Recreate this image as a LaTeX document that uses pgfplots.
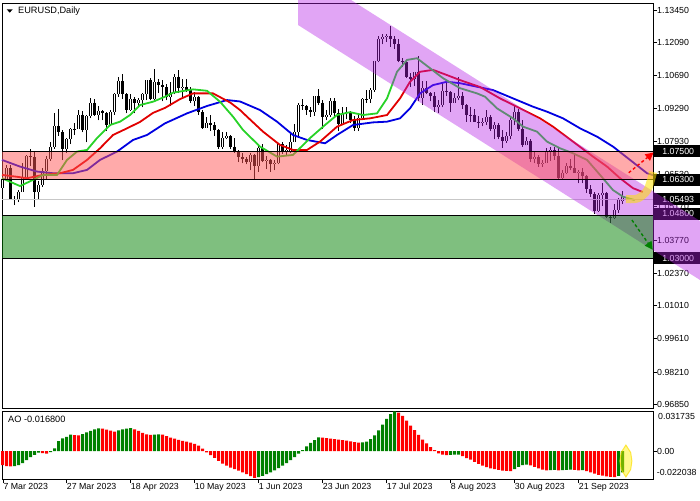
\documentclass[border=0pt]{standalone}
\usepackage{pgfplots}
\usepackage{pgfplotstable}
\pgfplotsset{compat=1.18}
\usetikzlibrary{arrows.meta}
\usepackage{fontspec}
\setmainfont{Liberation Sans}

\definecolor{lips}{RGB}{40,210,40}
\definecolor{teeth}{RGB}{225,0,0}
\definecolor{jaw}{RGB}{0,0,225}
\definecolor{chan}{RGB}{180,30,230}
\definecolor{zonepink}{RGB}{255,85,85}
\definecolor{zonegreen}{RGB}{0,128,0}
\definecolor{aogreen}{RGB}{0,128,0}
\definecolor{aored}{RGB}{255,0,0}

% wicks: low, high, break
\pgfplotstableread[row sep=\\]{
i v\\
-2 1.0590\\ -2 1.0638\\ -2 nan\\
-1 1.0630\\ -1 1.0693\\ -1 nan\\
0 1.0546\\ 0 1.0694\\ 0 nan\\
1 1.0524\\ 1 1.0563\\ 1 nan\\
2 1.0536\\ 2 1.0588\\ 2 nan\\
3 1.0580\\ 3 1.0700\\ 3 nan\\
4 1.0640\\ 4 1.0736\\ 4 nan\\
5 1.0690\\ 5 1.0760\\ 5 nan\\
6 1.0516\\ 6 1.0750\\ 6 nan\\
7 1.0550\\ 7 1.0626\\ 7 nan\\
8 1.0600\\ 8 1.0680\\ 8 nan\\
9 1.0635\\ 9 1.0730\\ 9 nan\\
10 1.0710\\ 10 1.0788\\ 10 nan\\
11 1.0760\\ 11 1.0912\\ 11 nan\\
12 1.0815\\ 12 1.0930\\ 12 nan\\
13 1.0713\\ 13 1.0840\\ 13 nan\\
14 1.0745\\ 14 1.0805\\ 14 nan\\
15 1.0780\\ 15 1.0850\\ 15 nan\\
16 1.0820\\ 16 1.0870\\ 16 nan\\
17 1.0845\\ 17 1.0925\\ 17 nan\\
18 1.0830\\ 18 1.0920\\ 18 nan\\
19 1.0788\\ 19 1.0904\\ 19 nan\\
20 1.0890\\ 20 1.0973\\ 20 nan\\
21 1.0900\\ 21 1.0970\\ 21 nan\\
22 1.0880\\ 22 1.0940\\ 22 nan\\
23 1.0880\\ 23 1.0925\\ 23 nan\\
24 1.0835\\ 24 1.0915\\ 24 nan\\
25 1.0855\\ 25 1.0925\\ 25 nan\\
26 1.0905\\ 26 1.0995\\ 26 nan\\
27 1.0980\\ 27 1.1065\\ 27 nan\\
28 1.0970\\ 28 1.1075\\ 28 nan\\
29 1.0910\\ 29 1.0995\\ 29 nan\\
30 1.0920\\ 30 1.0990\\ 30 nan\\
31 1.0910\\ 31 1.0980\\ 31 nan\\
32 1.0935\\ 32 1.0975\\ 32 nan\\
33 1.0935\\ 33 1.0995\\ 33 nan\\
34 1.0965\\ 34 1.1050\\ 34 nan\\
35 1.0965\\ 35 1.1060\\ 35 nan\\
36 1.0965\\ 36 1.1095\\ 36 nan\\
37 1.0995\\ 37 1.1055\\ 37 nan\\
38 1.0960\\ 38 1.1050\\ 38 nan\\
39 1.0965\\ 39 1.1035\\ 39 nan\\
40 1.0940\\ 40 1.1040\\ 40 nan\\
41 1.0990\\ 41 1.1075\\ 41 nan\\
42 1.0995\\ 42 1.1092\\ 42 nan\\
43 1.0980\\ 43 1.1055\\ 43 nan\\
44 1.1000\\ 44 1.1055\\ 44 nan\\
45 1.0955\\ 45 1.1020\\ 45 nan\\
46 1.0940\\ 46 1.1000\\ 46 nan\\
47 1.0905\\ 47 1.0985\\ 47 nan\\
48 1.0845\\ 48 1.0925\\ 48 nan\\
49 1.0850\\ 49 1.0895\\ 49 nan\\
50 1.0835\\ 50 1.0905\\ 50 nan\\
51 1.0815\\ 51 1.0875\\ 51 nan\\
52 1.0760\\ 52 1.0845\\ 52 nan\\
53 1.0760\\ 53 1.0830\\ 53 nan\\
54 1.0800\\ 54 1.0830\\ 54 nan\\
55 1.0760\\ 55 1.0820\\ 55 nan\\
56 1.0745\\ 56 1.0805\\ 56 nan\\
57 1.0705\\ 57 1.0755\\ 57 nan\\
58 1.0700\\ 58 1.0745\\ 58 nan\\
59 1.0695\\ 59 1.0725\\ 59 nan\\
60 1.0670\\ 60 1.0745\\ 60 nan\\
61 1.0635\\ 61 1.0740\\ 61 nan\\
62 1.0665\\ 62 1.0780\\ 62 nan\\
63 1.0705\\ 63 1.0780\\ 63 nan\\
64 1.0675\\ 64 1.0730\\ 64 nan\\
65 1.0665\\ 65 1.0720\\ 65 nan\\
66 1.0670\\ 66 1.0715\\ 66 nan\\
67 1.0695\\ 67 1.0785\\ 67 nan\\
68 1.0740\\ 68 1.0790\\ 68 nan\\
69 1.0730\\ 69 1.0775\\ 69 nan\\
70 1.0745\\ 70 1.0825\\ 70 nan\\
71 1.0790\\ 71 1.0865\\ 71 nan\\
72 1.0810\\ 72 1.0955\\ 72 nan\\
73 1.0925\\ 73 1.0970\\ 73 nan\\
74 1.0905\\ 74 1.0945\\ 74 nan\\
75 1.0895\\ 75 1.0935\\ 75 nan\\
76 1.0900\\ 76 1.0985\\ 76 nan\\
77 1.0945\\ 77 1.1012\\ 77 nan\\
78 1.0845\\ 78 1.0965\\ 78 nan\\
79 1.0880\\ 79 1.0925\\ 79 nan\\
80 1.0895\\ 80 1.0975\\ 80 nan\\
81 1.0895\\ 81 1.0975\\ 81 nan\\
82 1.0835\\ 82 1.0930\\ 82 nan\\
83 1.0860\\ 83 1.0935\\ 83 nan\\
84 1.0885\\ 84 1.0935\\ 84 nan\\
85 1.0870\\ 85 1.0920\\ 85 nan\\
86 1.0835\\ 86 1.0900\\ 86 nan\\
87 1.0835\\ 87 1.0905\\ 87 nan\\
88 1.0880\\ 88 1.0975\\ 88 nan\\
89 1.0955\\ 89 1.1010\\ 89 nan\\
90 1.0955\\ 90 1.1015\\ 90 nan\\
91 1.1000\\ 91 1.1130\\ 91 nan\\
92 1.1125\\ 92 1.1235\\ 92 nan\\
93 1.1200\\ 93 1.1245\\ 93 nan\\
94 1.1210\\ 94 1.1245\\ 94 nan\\
95 1.1190\\ 95 1.1276\\ 95 nan\\
96 1.1180\\ 96 1.1235\\ 96 nan\\
97 1.1125\\ 97 1.1225\\ 97 nan\\
98 1.1105\\ 98 1.1145\\ 98 nan\\
99 1.1060\\ 99 1.1135\\ 99 nan\\
100 1.1020\\ 100 1.1080\\ 100 nan\\
101 1.1025\\ 101 1.1085\\ 101 nan\\
102 1.0960\\ 102 1.1150\\ 102 nan\\
103 1.0945\\ 103 1.1045\\ 103 nan\\
104 1.0990\\ 104 1.1045\\ 104 nan\\
105 1.0960\\ 105 1.1000\\ 105 nan\\
106 1.0915\\ 106 1.1000\\ 106 nan\\
107 1.0910\\ 107 1.0965\\ 107 nan\\
108 1.0935\\ 108 1.1040\\ 108 nan\\
109 1.0985\\ 109 1.1040\\ 109 nan\\
110 1.0915\\ 110 1.1005\\ 110 nan\\
111 1.0955\\ 111 1.0995\\ 111 nan\\
112 1.0965\\ 112 1.1065\\ 112 nan\\
113 1.0930\\ 113 1.1000\\ 113 nan\\
114 1.0875\\ 114 1.0950\\ 114 nan\\
115 1.0875\\ 115 1.0935\\ 115 nan\\
116 1.0875\\ 116 1.0930\\ 116 nan\\
117 1.0850\\ 117 1.0900\\ 117 nan\\
118 1.0855\\ 118 1.0890\\ 118 nan\\
119 1.0860\\ 119 1.0925\\ 119 nan\\
120 1.0835\\ 120 1.0905\\ 120 nan\\
121 1.0800\\ 121 1.0875\\ 121 nan\\
122 1.0800\\ 122 1.0870\\ 122 nan\\
123 1.0765\\ 123 1.0840\\ 123 nan\\
124 1.0785\\ 124 1.0830\\ 124 nan\\
125 1.0800\\ 125 1.0895\\ 125 nan\\
126 1.0860\\ 126 1.0945\\ 126 nan\\
127 1.0835\\ 127 1.0930\\ 127 nan\\
128 1.0770\\ 128 1.0880\\ 128 nan\\
129 1.0775\\ 129 1.0810\\ 129 nan\\
130 1.0705\\ 130 1.0800\\ 130 nan\\
131 1.0700\\ 131 1.0750\\ 131 nan\\
132 1.0685\\ 132 1.0735\\ 132 nan\\
133 1.0685\\ 133 1.0715\\ 133 nan\\
134 1.0700\\ 134 1.0765\\ 134 nan\\
135 1.0710\\ 135 1.0770\\ 135 nan\\
136 1.0715\\ 136 1.0770\\ 136 nan\\
137 1.0630\\ 137 1.0770\\ 137 nan\\
138 1.0630\\ 138 1.0670\\ 138 nan\\
139 1.0655\\ 139 1.0700\\ 139 nan\\
140 1.0670\\ 140 1.0720\\ 140 nan\\
141 1.0660\\ 141 1.0735\\ 141 nan\\
142 1.0615\\ 142 1.0670\\ 142 nan\\
143 1.0615\\ 143 1.0680\\ 143 nan\\
144 1.0575\\ 144 1.0650\\ 144 nan\\
145 1.0560\\ 145 1.0610\\ 145 nan\\
146 1.0488\\ 146 1.0580\\ 146 nan\\
147 1.0495\\ 147 1.0575\\ 147 nan\\
148 1.0520\\ 148 1.0615\\ 148 nan\\
149 1.0470\\ 149 1.0580\\ 149 nan\\
150 1.0448\\ 150 1.0480\\ 150 nan\\
151 1.0465\\ 151 1.0530\\ 151 nan\\
152 1.0490\\ 152 1.0555\\ 152 nan\\
153 1.0530\\ 153 1.0585\\ 153 nan\\
}\wicks

% bullish bodies: open, close, break
\pgfplotstableread[row sep=\\]{
i v\\
-2 1.0596\\ -2 1.0634\\ -2 nan\\
-1 1.0634\\ -1 1.0682\\ -1 nan\\
2 1.0545\\ 2 1.0580\\ 2 nan\\
3 1.0580\\ 3 1.0640\\ 3 nan\\
4 1.0640\\ 4 1.0731\\ 4 nan\\
7 1.0577\\ 7 1.0609\\ 7 nan\\
8 1.0609\\ 8 1.0669\\ 8 nan\\
9 1.0669\\ 9 1.0720\\ 9 nan\\
10 1.0720\\ 10 1.0770\\ 10 nan\\
11 1.0770\\ 11 1.0856\\ 11 nan\\
14 1.0760\\ 14 1.0800\\ 14 nan\\
15 1.0800\\ 15 1.0845\\ 15 nan\\
17 1.0845\\ 17 1.0905\\ 17 nan\\
19 1.0840\\ 19 1.0900\\ 19 nan\\
20 1.0900\\ 20 1.0955\\ 20 nan\\
22 1.0905\\ 22 1.0920\\ 22 nan\\
25 1.0860\\ 25 1.0915\\ 25 nan\\
26 1.0915\\ 26 1.0990\\ 26 nan\\
27 1.0990\\ 27 1.1045\\ 27 nan\\
30 1.0925\\ 30 1.0970\\ 30 nan\\
32 1.0955\\ 32 1.0965\\ 32 nan\\
33 1.0965\\ 33 1.0990\\ 33 nan\\
34 1.0990\\ 34 1.1050\\ 34 nan\\
36 1.0970\\ 36 1.1040\\ 36 nan\\
40 1.0980\\ 40 1.0995\\ 40 nan\\
41 1.0995\\ 41 1.1065\\ 41 nan\\
43 1.1015\\ 43 1.1020\\ 43 nan\\
46 1.0960\\ 46 1.0980\\ 46 nan\\
49 1.0850\\ 49 1.0870\\ 49 nan\\
53 1.0770\\ 53 1.0805\\ 53 nan\\
54 1.0805\\ 54 1.0815\\ 54 nan\\
60 1.0705\\ 60 1.0735\\ 60 nan\\
62 1.0690\\ 62 1.0765\\ 62 nan\\
64 1.0710\\ 64 1.0715\\ 64 nan\\
66 1.0695\\ 66 1.0700\\ 66 nan\\
67 1.0700\\ 67 1.0780\\ 67 nan\\
69 1.0750\\ 69 1.0754\\ 69 nan\\
70 1.0750\\ 70 1.0790\\ 70 nan\\
71 1.0790\\ 71 1.0830\\ 71 nan\\
72 1.0830\\ 72 1.0945\\ 72 nan\\
76 1.0915\\ 76 1.0985\\ 76 nan\\
79 1.0895\\ 79 1.0905\\ 79 nan\\
80 1.0905\\ 80 1.0960\\ 80 nan\\
83 1.0865\\ 83 1.0910\\ 83 nan\\
84 1.0910\\ 84 1.0914\\ 84 nan\\
87 1.0850\\ 87 1.0890\\ 87 nan\\
88 1.0890\\ 88 1.0970\\ 88 nan\\
90 1.0970\\ 90 1.1010\\ 90 nan\\
91 1.1010\\ 91 1.1130\\ 91 nan\\
92 1.1130\\ 92 1.1225\\ 92 nan\\
93 1.1225\\ 93 1.1230\\ 93 nan\\
94 1.1230\\ 94 1.1235\\ 94 nan\\
101 1.1055\\ 101 1.1085\\ 101 nan\\
103 1.0975\\ 103 1.1015\\ 103 nan\\
107 1.0935\\ 107 1.0945\\ 107 nan\\
108 1.0945\\ 108 1.1005\\ 108 nan\\
111 1.0955\\ 111 1.0975\\ 111 nan\\
112 1.0975\\ 112 1.0985\\ 112 nan\\
118 1.0870\\ 118 1.0875\\ 118 nan\\
119 1.0875\\ 119 1.0895\\ 119 nan\\
121 1.0845\\ 121 1.0860\\ 121 nan\\
124 1.0795\\ 124 1.0815\\ 124 nan\\
125 1.0815\\ 125 1.0880\\ 125 nan\\
126 1.0880\\ 126 1.0915\\ 126 nan\\
129 1.0775\\ 129 1.0795\\ 129 nan\\
131 1.0720\\ 131 1.0725\\ 131 nan\\
133 1.0695\\ 133 1.0700\\ 133 nan\\
134 1.0700\\ 134 1.0750\\ 134 nan\\
135 1.0750\\ 135 1.0755\\ 135 nan\\
138 1.0640\\ 138 1.0660\\ 138 nan\\
139 1.0660\\ 139 1.0690\\ 139 nan\\
142 1.0660\\ 142 1.0664\\ 142 nan\\
147 1.0500\\ 147 1.0565\\ 147 nan\\
148 1.0565\\ 148 1.0575\\ 148 nan\\
151 1.0470\\ 151 1.0505\\ 151 nan\\
152 1.0505\\ 152 1.0550\\ 152 nan\\
153 1.0540\\ 153 1.0562\\ 153 nan\\
}\bull

% bearish bodies: open, close, break
\pgfplotstableread[row sep=\\]{
i v\\
0 1.0682\\ 0 1.0550\\ 0 nan\\
1 1.0550\\ 1 1.0545\\ 1 nan\\
5 1.0731\\ 5 1.0725\\ 5 nan\\
6 1.0725\\ 6 1.0577\\ 6 nan\\
12 1.0856\\ 12 1.0830\\ 12 nan\\
13 1.0830\\ 13 1.0760\\ 13 nan\\
16 1.0845\\ 16 1.0841\\ 16 nan\\
18 1.0905\\ 18 1.0840\\ 18 nan\\
21 1.0955\\ 21 1.0905\\ 21 nan\\
23 1.0920\\ 23 1.0910\\ 23 nan\\
24 1.0910\\ 24 1.0860\\ 24 nan\\
28 1.1045\\ 28 1.0990\\ 28 nan\\
29 1.0990\\ 29 1.0925\\ 29 nan\\
31 1.0970\\ 31 1.0955\\ 31 nan\\
35 1.1050\\ 35 1.0970\\ 35 nan\\
37 1.1040\\ 37 1.1028\\ 37 nan\\
38 1.1028\\ 38 1.1020\\ 38 nan\\
39 1.1020\\ 39 1.0980\\ 39 nan\\
42 1.1065\\ 42 1.1015\\ 42 nan\\
44 1.1020\\ 44 1.1010\\ 44 nan\\
45 1.1010\\ 45 1.0960\\ 45 nan\\
47 1.0980\\ 47 1.0915\\ 47 nan\\
48 1.0915\\ 48 1.0850\\ 48 nan\\
50 1.0870\\ 50 1.0860\\ 50 nan\\
51 1.0860\\ 51 1.0840\\ 51 nan\\
52 1.0840\\ 52 1.0770\\ 52 nan\\
55 1.0815\\ 55 1.0770\\ 55 nan\\
56 1.0770\\ 56 1.0750\\ 56 nan\\
57 1.0750\\ 57 1.0725\\ 57 nan\\
58 1.0725\\ 58 1.0720\\ 58 nan\\
59 1.0720\\ 59 1.0705\\ 59 nan\\
61 1.0735\\ 61 1.0690\\ 61 nan\\
63 1.0765\\ 63 1.0710\\ 63 nan\\
65 1.0715\\ 65 1.0695\\ 65 nan\\
68 1.0780\\ 68 1.0750\\ 68 nan\\
73 1.0945\\ 73 1.0940\\ 73 nan\\
74 1.0940\\ 74 1.0925\\ 74 nan\\
75 1.0925\\ 75 1.0915\\ 75 nan\\
77 1.0985\\ 77 1.0955\\ 77 nan\\
78 1.0955\\ 78 1.0895\\ 78 nan\\
81 1.0960\\ 81 1.0910\\ 81 nan\\
82 1.0910\\ 82 1.0865\\ 82 nan\\
85 1.0910\\ 85 1.0880\\ 85 nan\\
86 1.0880\\ 86 1.0850\\ 86 nan\\
89 1.0970\\ 89 1.0966\\ 89 nan\\
95 1.1235\\ 95 1.1225\\ 95 nan\\
96 1.1225\\ 96 1.1200\\ 96 nan\\
97 1.1200\\ 97 1.1130\\ 97 nan\\
98 1.1130\\ 98 1.1125\\ 98 nan\\
99 1.1125\\ 99 1.1065\\ 99 nan\\
100 1.1065\\ 100 1.1055\\ 100 nan\\
102 1.1085\\ 102 1.0975\\ 102 nan\\
104 1.1015\\ 104 1.0995\\ 104 nan\\
105 1.0995\\ 105 1.0985\\ 105 nan\\
106 1.0985\\ 106 1.0935\\ 106 nan\\
109 1.1005\\ 109 1.1000\\ 109 nan\\
110 1.1000\\ 110 1.0955\\ 110 nan\\
113 1.0985\\ 113 1.0945\\ 113 nan\\
114 1.0945\\ 114 1.0905\\ 114 nan\\
115 1.0905\\ 115 1.0901\\ 115 nan\\
116 1.0903\\ 116 1.0875\\ 116 nan\\
117 1.0875\\ 117 1.0870\\ 117 nan\\
120 1.0895\\ 120 1.0845\\ 120 nan\\
122 1.0860\\ 122 1.0810\\ 122 nan\\
123 1.0810\\ 123 1.0795\\ 123 nan\\
127 1.0915\\ 127 1.0845\\ 127 nan\\
128 1.0845\\ 128 1.0775\\ 128 nan\\
130 1.0795\\ 130 1.0720\\ 130 nan\\
132 1.0725\\ 132 1.0695\\ 132 nan\\
136 1.0755\\ 136 1.0730\\ 136 nan\\
137 1.0730\\ 137 1.0640\\ 137 nan\\
140 1.0690\\ 140 1.0680\\ 140 nan\\
141 1.0680\\ 141 1.0660\\ 141 nan\\
143 1.0662\\ 143 1.0645\\ 143 nan\\
144 1.0645\\ 144 1.0590\\ 144 nan\\
145 1.0590\\ 145 1.0570\\ 145 nan\\
146 1.0570\\ 146 1.0500\\ 146 nan\\
149 1.0575\\ 149 1.0475\\ 149 nan\\
150 1.0475\\ 150 1.0470\\ 150 nan\\
}\bear

% Awesome Oscillator, rising bars
\pgfplotstableread[row sep=\\]{
i v\\
1 -0.0118\\ 2 -0.0110\\ 3 -0.0095\\ 4 -0.0072\\ 5 -0.0048\\ 6 -0.0030\\ 7 -0.0012\\
10 -0.0008\\ 11 0.0022\\ 12 0.0080\\ 13 0.0100\\ 14 0.0112\\ 15 0.0130\\
18 0.0135\\ 19 0.0148\\ 20 0.0160\\ 21 0.0172\\ 22 0.0180\\
27 0.0165\\ 28 0.0172\\ 29 0.0178\\ 30 0.0181\\
36 0.0130\\ 37 0.0132\\
62 -0.0205\\ 63 -0.0195\\ 64 -0.0182\\ 65 -0.0168\\ 66 -0.0152\\ 67 -0.0135\\ 68 -0.0115\\
69 -0.0095\\ 70 -0.0072\\ 71 -0.0048\\ 72 -0.0020\\ 73 0.0008\\ 74 0.0038\\ 75 0.0066\\
76 0.0088\\ 77 0.0108\\
88 0.0070\\ 89 0.0076\\ 90 0.0095\\ 91 0.0125\\ 92 0.0165\\ 93 0.0210\\ 94 0.0255\\
95 0.0292\\ 96 0.0314\\
110 -0.0030\\ 111 -0.0028\\ 112 -0.0027\\
126 -0.0142\\ 127 -0.0124\\ 128 -0.0110\\ 129 -0.0106\\
135 -0.0150\\ 136 -0.0148\\ 138 -0.0150\\ 139 -0.0148\\ 140 -0.0147\\ 143 -0.0150\\
152 -0.0196\\ 153 -0.0168\\
}\aoup

% Awesome Oscillator, falling bars
\pgfplotstableread[row sep=\\]{
i v\\
-2 -0.0110\\ -1 -0.0118\\ 0 -0.0121\\ 8 -0.0016\\ 9 -0.0020\\
16 0.0127\\ 17 0.0124\\ 23 0.0178\\ 24 0.0170\\ 25 0.0162\\ 26 0.0155\\
31 0.0172\\ 32 0.0160\\ 33 0.0145\\ 34 0.0132\\ 35 0.0128\\
38 0.0130\\ 39 0.0118\\ 40 0.0106\\ 41 0.0098\\ 42 0.0090\\ 43 0.0082\\ 44 0.0075\\
45 0.0068\\ 46 0.0058\\ 47 0.0044\\ 48 0.0020\\ 49 -0.0010\\ 50 -0.0032\\ 51 -0.0054\\
52 -0.0078\\ 53 -0.0098\\ 54 -0.0115\\ 55 -0.0130\\ 56 -0.0142\\ 57 -0.0155\\
58 -0.0168\\ 59 -0.0182\\ 60 -0.0198\\ 61 -0.0212\\
78 0.0106\\ 79 0.0102\\ 80 0.0098\\ 81 0.0094\\ 82 0.0091\\ 83 0.0088\\ 84 0.0084\\
85 0.0078\\ 86 0.0072\\ 87 0.0068\\
97 0.0305\\ 98 0.0278\\ 99 0.0242\\ 100 0.0202\\ 101 0.0166\\ 102 0.0128\\ 103 0.0092\\
104 0.0062\\ 105 0.0032\\ 106 0.0008\\ 107 -0.0018\\ 108 -0.0028\\ 109 -0.0032\\
113 -0.0040\\ 114 -0.0055\\ 115 -0.0068\\ 116 -0.0085\\ 117 -0.0100\\ 118 -0.0114\\
119 -0.0127\\ 120 -0.0136\\ 121 -0.0143\\ 122 -0.0149\\ 123 -0.0154\\ 124 -0.0157\\
125 -0.0159\\ 130 -0.0112\\ 131 -0.0124\\ 132 -0.0136\\ 133 -0.0146\\ 134 -0.0152\\
137 -0.0152\\ 141 -0.0149\\ 142 -0.0152\\ 144 -0.0158\\ 145 -0.0168\\ 146 -0.0178\\
147 -0.0187\\ 148 -0.0193\\ 149 -0.0199\\ 150 -0.0203\\ 151 -0.0206\\
}\aodown

\begin{document}
\begin{tikzpicture}
\useasboundingbox (0pt,0pt) rectangle (700pt,500pt);

\begin{axis}[
    at={(2pt,92pt)}, anchor=south west,
    scale only axis, width=651pt, height=405pt,
    xmin=-2.175, xmax=160.575,
    ymin=0.96699, ymax=1.13745,
    clip=false,
    axis line style={black, line width=0.8pt},
    xtick=\empty,
    ytick pos=right, yticklabel pos=right,
    tick align=outside, major tick length=4pt,
    tick style={black, line width=0.8pt},
    ytick={0.9685,0.9821,0.9961,1.0101,1.0237,1.0377,1.0517,1.0653,1.0793,1.0929,1.1069,1.1209,1.1345},
    yticklabels={0.96850,0.98210,0.99610,1.01010,1.02370,1.03770,1.05170,1.06530,1.07930,1.09290,1.10690,1.12090,1.13450},
    yticklabel style={anchor=west, inner sep=0pt, font=\fontsize{8.8}{10}\selectfont},
]
% candles
\addplot[black, line width=1pt, unbounded coords=jump] table[x=i, y=v] {\wicks};
\addplot[black, line width=3pt, unbounded coords=jump] table[x=i, y=v] {\bear};
\addplot[black, line width=3pt, unbounded coords=jump] table[x=i, y=v] {\bull};
\addplot[white, line width=1pt, unbounded coords=jump] table[x=i, y=v] {\bull};

% alligator lines
\addplot[jaw, line width=1.8pt] coordinates {
(-2.18,1.0714)(2.33,1.0686)(6.58,1.0665)(10.58,1.0658)(15.58,1.0658)(19.08,1.0672)
(22.33,1.0714)(26.58,1.0749)(30.58,1.0798)(34.08,1.0819)(38.58,1.0868)(44.08,1.0910)
(49.08,1.0941)(54.08,1.0966)(57.33,1.0960)(62.33,1.0924)(66.58,1.0875)(70.58,1.0819)
(74.08,1.0798)(78.58,1.0784)(81.58,1.0819)(85.58,1.0861)(90.58,1.0872)(94.08,1.0875)
(97.33,1.0889)(99.83,1.0931)(102.33,1.0994)(105.58,1.1029)(109.08,1.1043)(112.33,1.1037)
(116.58,1.1022)(120.58,1.1008)(125.58,1.0973)(130.58,1.0938)(134.08,1.0917)(138.08,1.0889)
(142.33,1.0847)(146.58,1.0812)(150.58,1.0770)(154.83,1.0714)(159.08,1.0658)(160.575,1.0650)};
\addplot[teeth, line width=1.8pt] coordinates {
(-2.18,1.0651)(1.58,1.0643)(4.08,1.0637)(8.08,1.0651)(12.33,1.0658)(15.58,1.0672)
(19.08,1.0714)(22.33,1.0763)(25.58,1.0819)(29.08,1.0847)(32.33,1.0874)(35.58,1.0912)
(38.58,1.0933)(42.33,1.0970)(45.58,1.0994)(50.58,1.0994)(54.83,1.0956)(57.33,1.0924)
(59.08,1.0896)(63.08,1.0833)(67.33,1.0777)(70.58,1.0756)(74.08,1.0756)(77.33,1.0791)
(81.58,1.0854)(85.58,1.0882)(89.83,1.0889)(94.08,1.0903)(97.33,1.0973)(99.83,1.1043)
(102.33,1.1085)(105.58,1.1093)(109.08,1.1071)(112.33,1.1050)(117.33,1.1021)(122.33,1.0973)
(127.33,1.0931)(132.33,1.0889)(135.58,1.0854)(140.58,1.0791)(145.58,1.0728)(149.08,1.0686)
(152.33,1.0637)(155.58,1.0595)(158,1.0579)};
\addplot[lips, line width=1.8pt] coordinates {
(-2.18,1.0637)(2.33,1.0604)(5.58,1.0630)(8.08,1.0651)(11.58,1.0651)(14.08,1.0714)
(16.58,1.0749)(19.08,1.0756)(21.58,1.0806)(24.83,1.0861)(27.33,1.0875)(29.83,1.0903)
(32.33,1.0945)(35.58,1.0959)(38.58,1.0980)(40.58,1.0997)(45.58,1.1011)(49.08,1.1005)
(52.33,1.0959)(55.58,1.0896)(58.08,1.0840)(62.33,1.0770)(66.58,1.0728)(70.58,1.0735)
(74.83,1.0806)(78.58,1.0861)(81.58,1.0903)(84.83,1.0915)(88.08,1.0903)(91.58,1.0910)
(94.08,1.0973)(96.58,1.1085)(99.08,1.1135)(101.58,1.1142)(104.83,1.1100)(108.08,1.1058)
(112.33,1.1016)(116.58,1.0994)(118.58,1.0980)(121.58,1.0931)(125.58,1.0889)(128.08,1.0854)
(131.58,1.0833)(134.08,1.0791)(137.33,1.0763)(140.58,1.0742)(144.08,1.0714)(147.33,1.0651)
(150.58,1.0587)(153.08,1.0559)(156,1.0545)};

% current price line
\addplot[black!22, line width=0.8pt] coordinates {(-2.175,1.05493)(160.575,1.05493)};

% price labels on the scale
\node[fill=black, text=white, anchor=west, inner xsep=5pt, inner ysep=0pt, minimum height=12pt, minimum width=50pt, font=\fontsize{8.8}{10}\selectfont] at (axis cs:160.575,1.0750) {1.07500\hspace{8pt}};
\node[fill=black, text=white, anchor=west, inner xsep=5pt, inner ysep=0pt, minimum height=12pt, minimum width=50pt, font=\fontsize{8.8}{10}\selectfont] at (axis cs:160.575,1.0630) {1.06300\hspace{8pt}};
\node[fill=black, text=white, anchor=west, inner xsep=5pt, inner ysep=0pt, minimum height=12pt, minimum width=50pt, font=\fontsize{8.8}{10}\selectfont] at (axis cs:160.575,1.05493) {1.05493\hspace{8pt}};
\node[fill=black, text=white, anchor=west, inner xsep=5pt, inner ysep=0pt, minimum height=12pt, minimum width=50pt, font=\fontsize{8.8}{10}\selectfont] at (axis cs:160.575,1.0488) {1.04800\hspace{8pt}};
\node[fill=black, text=white, anchor=west, inner xsep=5pt, inner ysep=0pt, minimum height=12pt, minimum width=50pt, font=\fontsize{8.8}{10}\selectfont] at (axis cs:160.575,1.0300) {1.03000\hspace{8pt}};

% descending channel
\addplot[draw=none, fill=chan, fill opacity=0.4] coordinates {
(71.83,1.13871)(85.08,1.13871)(172.33,1.04570)(172.33,1.02086)(71.83,1.12819)} -- cycle;

% resistance and support zones
\addplot[draw=none, fill=zonepink, fill opacity=0.5] coordinates {
(-2.175,1.0630)(160.575,1.0630)(160.575,1.0750)(-2.175,1.0750)} -- cycle;
\addplot[draw=none, fill=zonegreen, fill opacity=0.5] coordinates {
(-2.175,1.0300)(160.575,1.0300)(160.575,1.0480)(-2.175,1.0480)} -- cycle;
\addplot[black, line width=0.8pt] coordinates {(-2.175,1.0750)(160.575,1.0750)};
\addplot[black, line width=0.8pt] coordinates {(-2.175,1.0630)(160.575,1.0630)};
\addplot[black, line width=0.8pt] coordinates {(-2.175,1.0480)(160.575,1.0480)};
\addplot[black, line width=0.8pt] coordinates {(-2.175,1.0300)(160.575,1.0300)};

% highlight and scenario arrows
\addplot[yellow!85!orange, line width=8pt, opacity=0.55, smooth] coordinates {
(153.8,1.0549)(156.8,1.0552)(159.2,1.0588)(160.6,1.0663)};
\addplot[red, line width=1.4pt, dash pattern=on 3pt off 2.5pt, -{Triangle[length=8pt, width=8pt]}] coordinates {(154.5,1.0660)(160.7,1.0745)};
\addplot[black!50!green, line width=1.4pt, dash pattern=on 3pt off 2.5pt, -{Triangle[length=8pt, width=8pt]}] coordinates {(155.3,1.0461)(160.5,1.0336)};
\end{axis}

\begin{axis}[
    at={(2pt,21pt)}, anchor=south west,
    scale only axis, width=651pt, height=68pt,
    xmin=-2.175, xmax=160.575,
    ymin=-0.022038, ymax=0.031735,
    scaled y ticks=false,
    clip=false,
    axis line style={black, line width=0.8pt},
    tick align=outside, major tick length=4pt,
    tick style={black, line width=0.8pt},
    ytick pos=right, yticklabel pos=right,
    ytick={0}, yticklabels={0.00},
    yticklabel style={anchor=west, inner sep=0pt, font=\fontsize{8.8}{10}\selectfont},
    xtick pos=left, xticklabel pos=left,
    xtick={-1.85,14,30,46,62,78,94,110,126,142},
    xticklabels={7 Mar 2023,27 Mar 2023,18 Apr 2023,10 May 2023,1 Jun 2023,23 Jun 2023,17 Jul 2023,8 Aug 2023,30 Aug 2023,21 Sep 2023},
    xticklabel style={anchor=north west, inner sep=0pt, font=\fontsize{8.8}{10}\selectfont},
]
\addplot[ybar, bar width=3pt, bar shift=0pt, fill=aogreen, draw=none] table[x=i, y=v] {\aoup};
\addplot[ybar, bar width=3pt, bar shift=0pt, fill=aored, draw=none] table[x=i, y=v] {\aodown};
\addplot[draw=yellow!80!orange, line width=1pt, fill=yellow, fill opacity=0.45, draw opacity=0.7] coordinates {(152.3,-0.0078)(152.6,-0.0145)(153.8,-0.0204)(155.0,-0.0145)(155.3,-0.0078)(155.0,-0.0011)(153.8,0.0048)(152.6,-0.0011)} -- cycle;
\end{axis}

% captions
\fill (6.7pt,490.7pt) -- (12.7pt,490.7pt) -- (9.7pt,487.3pt) -- cycle;
\node[anchor=west, inner sep=0pt, font=\fontsize{9.2}{10}\selectfont] at (18pt,489pt) {EURUSD,Daily};
\node[anchor=west, inner sep=0pt, font=\fontsize{9.2}{10}\selectfont] at (8pt,81pt) {AO -0.016800};
\node[anchor=west, inner sep=0pt, font=\fontsize{8.8}{10}\selectfont] at (658pt,83.3pt) {0.031735};
\node[anchor=west, inner sep=0pt, font=\fontsize{8.8}{10}\selectfont] at (656.7pt,27.3pt) {-0.022038};
\end{tikzpicture}
\end{document}
